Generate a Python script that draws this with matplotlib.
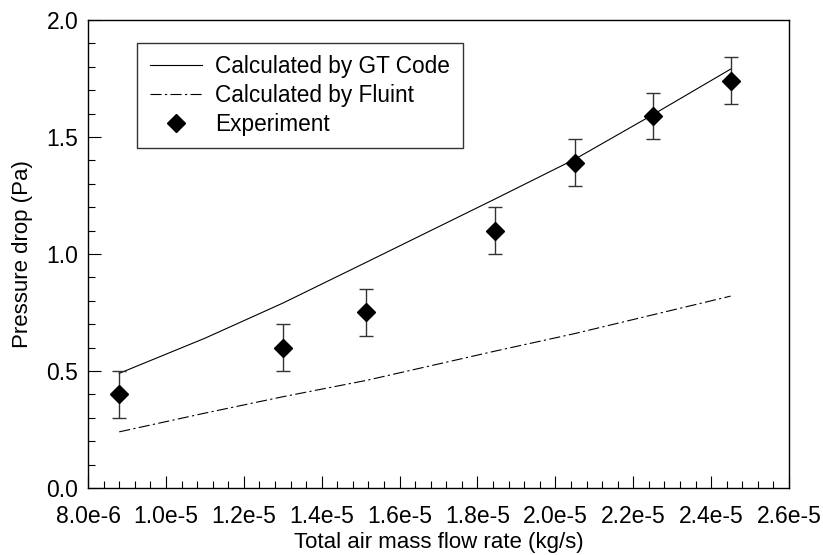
import matplotlib
matplotlib.use("Agg")
import matplotlib.pyplot as plt
from matplotlib.ticker import MultipleLocator, FormatStrFormatter

plt.rcParams['font.family'] = ['Liberation Sans', 'DejaVu Sans']

# experiment
exp_x = [8.8e-6, 1.3e-5, 1.515e-5, 1.845e-5, 2.05e-5, 2.25e-5, 2.45e-5]
exp_y = [0.40, 0.60, 0.75, 1.10, 1.39, 1.59, 1.74]
exp_err = [0.10, 0.10, 0.10, 0.10, 0.10, 0.10, 0.10]

# model curves
gt_x = [8.8e-6, 1.1e-5, 1.3e-5, 1.515e-5, 1.845e-5, 2.05e-5, 2.25e-5, 2.45e-5]
gt_y = [0.49, 0.64, 0.79, 0.965, 1.235, 1.405, 1.595, 1.79]
fl_x = [8.8e-6, 1.1e-5, 1.3e-5, 1.515e-5, 1.845e-5, 2.05e-5, 2.25e-5, 2.45e-5]
fl_y = [0.24, 0.32, 0.39, 0.46, 0.585, 0.66, 0.74, 0.82]

fig = plt.figure(figsize=(8.23, 5.55), dpi=100)
ax = fig.add_axes([0.107, 0.1207, 0.8517, 0.8433])

ax.plot(gt_x, gt_y, color='black', lw=0.8, label='Calculated by GT Code')
ax.plot(fl_x, fl_y, color='black', lw=0.8, dashes=(10, 3, 2, 3),
        label='Calculated by Fluint')
ax.errorbar(exp_x, exp_y, yerr=exp_err, fmt='none', ecolor='#333333',
            elinewidth=1, capsize=5, capthick=1)
ax.plot(exp_x, exp_y, 'D', color='black', ms=9, linestyle='none',
        label='Experiment')

ax.set_xlim(8e-6, 2.6e-5)
ax.set_ylim(0, 2.0)
ax.xaxis.set_major_locator(MultipleLocator(2e-6))
ax.xaxis.set_minor_locator(MultipleLocator(4e-7))
ax.yaxis.set_major_locator(MultipleLocator(0.5))
ax.yaxis.set_minor_locator(MultipleLocator(0.1))
ax.yaxis.set_major_formatter(FormatStrFormatter('%.1f'))


def sci(v, pos):
    s = '%.1e' % v
    m, e = s.split('e')
    return '%se%d' % (m, int(e))


ax.xaxis.set_major_formatter(plt.FuncFormatter(sci))
ax.tick_params(which='both', direction='in', labelsize=16.5, top=False, right=False)
ax.tick_params(which='major', length=9, width=0.8)
ax.tick_params(which='minor', length=5, width=0.8)
ax.tick_params(axis='x', pad=12)
ax.tick_params(axis='y', pad=7)

for s in ax.spines.values():
    s.set_linewidth(1)

ax.set_xlabel('Total air mass flow rate (kg/s)', fontsize=16, labelpad=3)
ax.set_ylabel('Pressure drop (Pa)', fontsize=16, labelpad=10)

leg = ax.legend(loc='upper left', bbox_to_anchor=(0.07, 0.951), fontsize=16.3,
                frameon=True, fancybox=False, edgecolor='black',
                handlelength=2.3, labelspacing=0.25, borderpad=0.55,
                handletextpad=0.6, borderaxespad=0)
leg.get_frame().set_linewidth(1)

fig.savefig('out.png', dpi=100)
